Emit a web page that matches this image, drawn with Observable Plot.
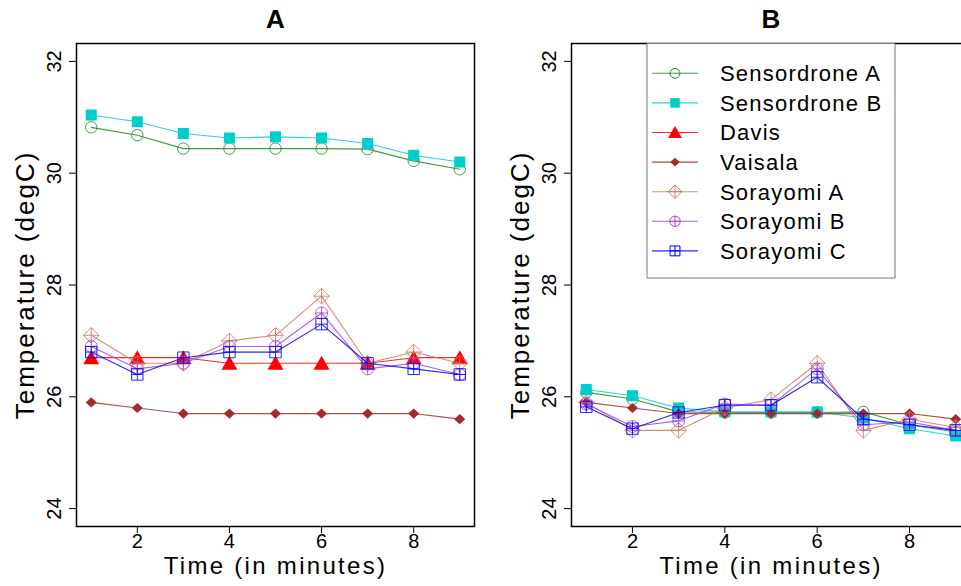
<!DOCTYPE html>
<html><head><meta charset="utf-8">
<script src="https://cdn.jsdelivr.net/npm/d3@7"></script>
<script src="https://cdn.jsdelivr.net/npm/@observablehq/plot@0.6"></script>
<style>
html,body{margin:0;padding:0;background:#fff;overflow:hidden;}
#wrap{position:relative;width:961px;height:586px;overflow:hidden;background:#fff;}
#wrap svg{position:absolute;top:0;}
</style></head><body><div id="wrap"></div>
<script>
// ---------- data ----------
const minutes = [1, 2, 3, 4, 5, 6, 7, 8, 9];
const sensors = ["Sensordrone A", "Sensordrone B", "Davis", "Vaisala", "Sorayomi A", "Sorayomi B", "Sorayomi C"];
const panelTitles = ["A", "B"];
const xTicks = [2, 4, 6, 8];
const yTicks = [24, 26, 28, 30, 32];

// Panel A
const a_sensordroneA = [30.82, 30.68, 30.44, 30.44, 30.44, 30.44, 30.43, 30.22, 30.07];
const a_sensordroneB = [31.04, 30.92, 30.71, 30.63, 30.65, 30.63, 30.53, 30.32, 30.20];
const a_davis        = [26.70, 26.70, 26.70, 26.60, 26.60, 26.60, 26.60, 26.70, 26.70];
const a_vaisala      = [25.90, 25.80, 25.70, 25.70, 25.70, 25.70, 25.70, 25.70, 25.60];
const a_sorayomiA    = [27.10, 26.60, 26.60, 27.00, 27.10, 27.80, 26.60, 26.80, 26.60];
const a_sorayomiB    = [26.90, 26.50, 26.60, 26.90, 26.90, 27.50, 26.50, 26.60, 26.40];
const a_sorayomiC    = [26.80, 26.40, 26.70, 26.80, 26.80, 27.30, 26.60, 26.50, 26.40];

// Panel B (no Davis readings)
const b_sensordroneA = [26.08, 25.96, 25.73, 25.72, 25.72, 25.72, 25.73, 25.50, 25.37];
const b_sensordroneB = [26.13, 26.02, 25.80, 25.73, 25.73, 25.73, 25.62, 25.43, 25.30];
const b_davis        = null;
const b_vaisala      = [25.90, 25.80, 25.70, 25.70, 25.70, 25.70, 25.70, 25.70, 25.60];
const b_sorayomiA    = [25.90, 25.40, 25.40, 25.80, 25.95, 26.60, 25.40, 25.60, 25.45];
const b_sorayomiB    = [25.87, 25.47, 25.57, 25.87, 25.85, 26.50, 25.50, 25.55, 25.40];
const b_sorayomiC    = [25.82, 25.43, 25.72, 25.85, 25.85, 26.35, 25.60, 25.50, 25.40];

const panelSeries = {
  A: [a_sensordroneA, a_sensordroneB, a_davis, a_vaisala, a_sorayomiA, a_sorayomiB, a_sorayomiC],
  B: [b_sensordroneA, b_sensordroneB, b_davis, b_vaisala, b_sorayomiA, b_sorayomiB, b_sorayomiC]
};

// ---------- styles ----------
function sym(fn) { return {draw(ctx, size) { fn(ctx, Math.sqrt(size / Math.PI)); }}; }
const openCircle = sym((c, s) => { const r = s * 0.95; c.moveTo(r, 0); c.arc(0, 0, r, 0, 2 * Math.PI); });
const filledSquare = sym((c, s) => { const h = s * 0.92; c.rect(-h, -h, 2 * h, 2 * h); });
const filledTriangle = sym((c, s) => { c.moveTo(0, -1.25 * s); c.lineTo(1.33 * s, 1.08 * s); c.lineTo(-1.33 * s, 1.08 * s); c.closePath(); });
const smallDiamond = sym((c, s) => { c.moveTo(0, -0.85 * s); c.lineTo(0.92 * s, 0); c.lineTo(0, 0.85 * s); c.lineTo(-0.92 * s, 0); c.closePath(); });
const diamondPlus = sym((c, s) => { const h = 1.3 * s; c.moveTo(0, -h); c.lineTo(h, 0); c.lineTo(0, h); c.lineTo(-h, 0); c.closePath(); c.moveTo(0, -h); c.lineTo(0, h); c.moveTo(-h, 0); c.lineTo(h, 0); });
const circlePlus = sym((c, s) => { const r = s; c.moveTo(r, 0); c.arc(0, 0, r, 0, 2 * Math.PI); c.moveTo(0, -r); c.lineTo(0, r); c.moveTo(-r, 0); c.lineTo(r, 0); });
const squarePlus = sym((c, s) => { const h = 0.95 * s; c.rect(-h, -h, 2 * h, 2 * h); c.moveTo(0, -h); c.lineTo(0, h); c.moveTo(-h, 0); c.lineTo(h, 0); });

const styles = [
  {color: "#228B22", symbol: openCircle, filled: false},
  {color: "#00CDCD", symbol: filledSquare, filled: true},
  {color: "#FF0000", symbol: filledTriangle, filled: true},
  {color: "#A52A2A", symbol: smallDiamond, filled: true},
  {color: "#D07A62", symbol: diamondPlus, filled: false},
  {color: "#A045E0", symbol: circlePlus, filled: false},
  {color: "#0000FF", symbol: squarePlus, filled: false}
];

const FONT = "'Liberation Sans', Arial, Helvetica, sans-serif";

function makePanel(title, opts) {
  const series = panelSeries[title];
  const marks = [
    Plot.axisX({ticks: xTicks, tickSize: 7, tickPadding: 0, label: null, fontSize: 20}),
    Plot.axisY({ticks: yTicks, tickSize: 7, tickRotate: -90, tickPadding: 9, label: null, fontSize: 20})
  ];
  series.forEach((vals, k) => {
    if (!vals) return;
    const rows = minutes.map((m, i) => ({minute: m, temp: vals[i], sensor: sensors[k]}));
    const st = styles[k];
    marks.push(Plot.line(rows, {x: "minute", y: "temp", stroke: st.color, strokeWidth: 1.1, strokeOpacity: 0.85}));
    marks.push(Plot.dot(rows, {
      x: "minute", y: "temp", r: 6, symbol: st.symbol,
      fill: st.filled ? st.color : "none",
      stroke: st.filled ? "none" : st.color,
      strokeWidth: 1, strokeOpacity: 0.85
    }));
  });
  marks.push(Plot.frame({stroke: "#000", strokeWidth: 1.5}));
  marks.push(Plot.text([title], {frameAnchor: "top", dy: -16, lineAnchor: "bottom", textAnchor: "middle", fontSize: 26, fontWeight: "bold"}));
  marks.push(Plot.text(["Time (in minutes)"], {frameAnchor: "bottom", dy: 47, lineAnchor: "bottom", textAnchor: "middle", fontSize: 24}));
  marks.push(Plot.text(["Temperature (degC)"], {frameAnchor: "left", dx: -43, rotate: -90, lineAnchor: "bottom", textAnchor: "middle", fontSize: 26}));
  const svg = Plot.plot({
    width: opts.width, height: 586,
    marginLeft: opts.marginLeft, marginRight: opts.marginRight, marginTop: 43, marginBottom: 60,
    x: {domain: [0.68, 9.32]},
    y: {domain: [23.68, 32.32]},
    style: {fontFamily: FONT, fontSize: "20px", color: "#000", background: "transparent", overflow: "visible"},
    marks
  });
  svg.style.left = opts.left + "px";
  svg.querySelectorAll("text").forEach(t => {
    const s = t.textContent;
    if (s === "Time (in minutes)") t.setAttribute("letter-spacing", "2.3px");
    if (s === "Temperature (degC)") t.setAttribute("letter-spacing", "2px");
  });
  return svg;
}

const wrap = document.getElementById("wrap");
wrap.appendChild(makePanel("A", {width: 480, marginLeft: 76, marginRight: 6, left: 0}));
wrap.appendChild(makePanel("B", {width: 490, marginLeft: 91, marginRight: 0, left: 480}));

// ---------- legend (inside panel B, top) ----------
const lg = d3.create("svg").attr("width", 961).attr("height", 586).style("left", "0px").style("pointer-events", "none");
const bx0 = 647, bx1 = 895, by0 = 43.5, by1 = 278;
lg.append("rect").attr("x", bx0).attr("y", by0).attr("width", bx1 - bx0).attr("height", by1 - by0).attr("fill", "#fff");
lg.append("path").attr("d", `M${bx0},${by0}V${by1}H${bx1}V${by0}`).attr("fill", "none").attr("stroke", "#777").attr("stroke-width", 1);
sensors.forEach((name, k) => {
  const st = styles[k];
  const y = 73.3 + k * 29.6;
  const g = lg.append("g").attr("transform", `translate(0,${y})`);
  g.append("line").attr("x1", 652).attr("x2", 698).attr("y1", 0).attr("y2", 0).attr("stroke", st.color).attr("stroke-width", 1.1).attr("stroke-opacity", 0.85);
  g.append("path").attr("transform", "translate(675,0)")
    .attr("d", d3.symbol(st.symbol, 5.2 * 5.2 * Math.PI)())
    .attr("fill", st.filled ? st.color : "none")
    .attr("stroke", st.filled ? "none" : st.color).attr("stroke-width", 1);
  g.append("text").attr("x", 720).attr("y", 0).attr("dy", "0.36em")
    .attr("font-family", FONT).attr("font-size", 22).attr("letter-spacing", "1.2px").attr("fill", "#000")
    .text(name);
});
wrap.appendChild(lg.node());
</script>
</body></html>
